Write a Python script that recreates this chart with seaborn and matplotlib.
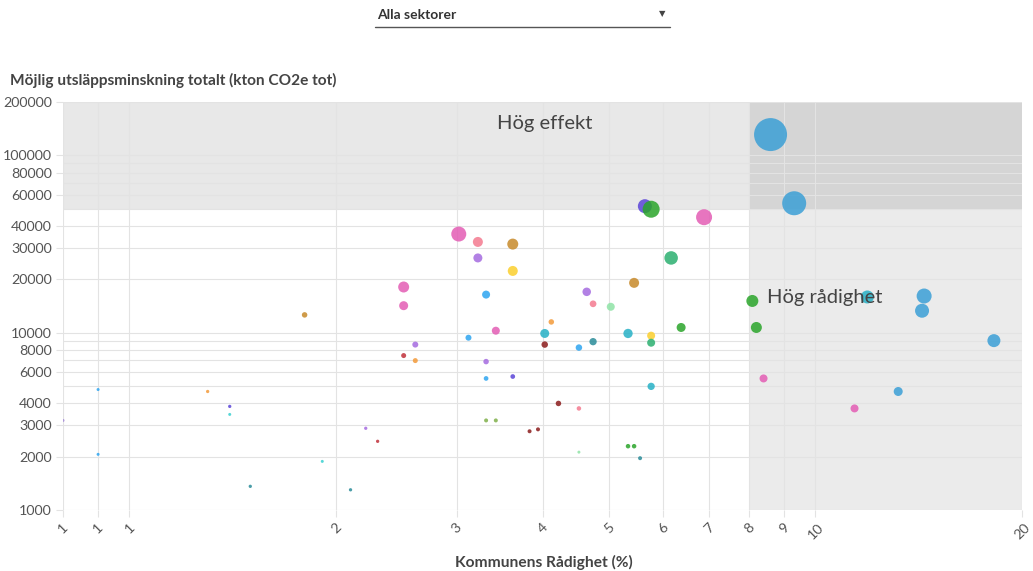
import matplotlib
matplotlib.use("Agg")
import matplotlib.pyplot as plt
import seaborn as sns
import pandas as pd
from matplotlib.lines import Line2D

# Kommunens rådighet (%) per åtgärd
radighet = [0.80, 0.90, 0.90, 1.30, 1.40, 1.40, 1.50, 1.80, 1.91, 2.10,
            2.21, 2.30, 2.51, 2.51, 2.51, 2.61, 2.61, 3.02, 3.12, 3.22,
            3.22, 3.31, 3.31, 3.31, 3.31, 3.42, 3.42, 3.62, 3.62, 3.62,
            3.83, 3.94, 4.03, 4.03, 4.12, 4.22, 4.52, 4.52, 4.52, 4.64,
            4.74, 4.74, 5.03, 5.33, 5.44, 5.33, 5.44, 5.55, 5.64, 5.76,
            5.76, 5.76, 5.76, 6.16, 6.37, 6.88, 8.09, 8.20, 8.40, 8.60,
            9.31, 11.4, 11.9, 13.2, 14.3, 14.4, 18.2]

# Möjlig utsläppsminskning totalt (kton CO2e)
utslapp = [3200, 4780, 2060, 4660, 3840, 3460, 1360, 12600, 1880, 1300,
           2890, 2440, 18100, 14200, 7430, 8570, 6960, 36000, 9370, 32500,
           26400, 16400, 6870, 5520, 3200, 10260, 3200, 31600, 22300, 5660,
           2780, 2850, 9900, 8570, 11500, 3990, 3740, 2120, 8240, 17000,
           14550, 8900, 14000, 2290, 2290, 9900, 19100, 1960, 51700, 49700,
           9620, 8780, 4980, 26400, 10700, 44800, 15100, 10700, 5520, 131000,
           53700, 3740, 15900, 4660, 13300, 16100, 9020]

# Bubblornas diameter (px)
diameter = [3, 3, 3, 3.3, 3.3, 3, 3.3, 5.5, 3, 3.3,
            3.3, 3.3, 11, 9, 5, 6, 5, 15, 6, 10,
            9, 8, 5.5, 4.7, 4, 8, 4, 11, 10, 4.7,
            4, 4, 9, 6.5, 5.5, 5.5, 4.5, 3, 6.5, 8.5,
            6.7, 7.3, 8, 4.5, 4.5, 9.3, 10, 4, 14, 17,
            8, 8, 7.3, 13.5, 9, 16, 12, 11, 8, 33,
            24, 8, 13, 9, 14, 15, 13]

PINK, SALMON, PURPLE, BROWN = "#e35db4", "#f47a8f", "#a56be0", "#c78a2a"
YELLOW, BLUE, BIGBLUE, CYAN = "#fbcf2e", "#2ea5f0", "#3b9fd6", "#27b1c6"
DARKRED, RED, ORANGE, LGREEN = "#8b1c1c", "#c0303a", "#f39a3a", "#8fe3a6"
GREEN, SEAGREEN, TEAL, INDIGO = "#2aa52a", "#2bb070", "#2a8c99", "#5b45d8"
OLIVE, TURQ, LPURPLE = "#7fb04a", "#3ad0d0", "#a58bd8"

farg = [LPURPLE, BLUE, BLUE, ORANGE, INDIGO, TURQ, TEAL, BROWN, TURQ, TEAL,
        PURPLE, RED, PINK, PINK, RED, PURPLE, ORANGE, PINK, BLUE, SALMON,
        PURPLE, BLUE, PURPLE, BLUE, OLIVE, PINK, OLIVE, BROWN, YELLOW, INDIGO,
        DARKRED, DARKRED, CYAN, DARKRED, ORANGE, DARKRED, SALMON, LGREEN, BLUE, PURPLE,
        SALMON, TEAL, LGREEN, GREEN, GREEN, CYAN, BROWN, TEAL, INDIGO, GREEN,
        YELLOW, SEAGREEN, CYAN, SEAGREEN, GREEN, PINK, GREEN, GREEN, PINK, BIGBLUE,
        BIGBLUE, PINK, CYAN, BIGBLUE, BIGBLUE, BIGBLUE, BIGBLUE]

x_ticks = [0.8, 0.9, 1, 2, 3, 4, 5, 6, 7, 8, 9, 10, 20]
x_tick_labels = ["1", "1", "1", "2", "3", "4", "5", "6", "7", "8", "9", "10", "20"]
y_major = [1000, 2000, 3000, 4000, 6000, 8000, 10000, 20000, 30000, 40000,
           60000, 80000, 100000, 200000]
y_minor = [5000, 7000, 9000, 50000, 70000, 90000]

sns.set_theme(style="white")
plt.rcParams["font.family"] = ["Lato", "DejaVu Sans"]

W, H = 1033, 571
fig = plt.figure(figsize=(W / 100, H / 100), dpi=100)
ax = fig.add_axes([63 / W, 1 - 510 / H, 959 / W, 408 / H])

df = pd.DataFrame({"radighet": radighet, "utslapp": utslapp,
                   "diameter": diameter, "farg": farg})
df["id"] = [f"p{i}" for i in range(len(df))]
palette = dict(zip(df["id"], df["farg"]))
sizes = {d: (d * 0.72) ** 2 for d in df["diameter"].unique()}

ax.set_xscale("log")
ax.set_yscale("log")
ax.set_xlim(0.8, 20)
ax.set_ylim(1000, 200000)

# Zoner: hög effekt och hög rådighet
ax.axhspan(50000, 200000, color="black", alpha=0.09, lw=0, zorder=0)
ax.axvspan(8, 20, color="black", alpha=0.08, lw=0, zorder=0)

sns.scatterplot(data=df, x="radighet", y="utslapp", hue="id", palette=palette,
                size="diameter", sizes=sizes, legend=False, alpha=0.85,
                linewidth=0, ax=ax, zorder=3)

ax.set_xticks(x_ticks)
ax.set_xticklabels(x_tick_labels, rotation=45, ha="center")
ax.xaxis.set_minor_locator(matplotlib.ticker.NullLocator())
ax.set_yticks(y_major)
ax.set_yticklabels([str(v) for v in y_major])
ax.set_yticks(y_minor, minor=True)
ax.set_yticklabels([], minor=True)

ax.grid(True, which="both", color="#e3e3e3", lw=0.8, zorder=1)
ax.tick_params(axis="both", which="major", length=5, width=0.8, color="#e3e3e3",
               labelsize=10.3, labelcolor="#555555", pad=3, left=True, bottom=True)
ax.tick_params(axis="y", which="minor", length=0)
for s in ax.spines.values():
    s.set_visible(False)

ax.set_xlabel("")
ax.set_ylabel("")

ax.text(4.03, 152000, "Hög effekt", ha="center", va="center", fontsize=14.5,
        color="#444444", zorder=4)
ax.text(10.3, 15700, "Hög rådighet", ha="center", va="center", fontsize=14.5,
        color="#444444", zorder=4)

fig.text(10 / W, 1 - 80 / H, "Möjlig utsläppsminskning totalt (kton CO2e tot)",
         ha="left", va="center", fontsize=11.1, fontweight="bold", color="#444444")
fig.text(544 / W, 1 - 562 / H, "Kommunens Rådighet (%)", ha="center", va="center",
         fontsize=11.2, fontweight="bold", color="#444444")

# Sektorsväljare
fig.text(377 / W, 1 - 15 / H, "Alla sektorer", ha="left", va="center",
         fontsize=10, fontweight="bold", color="#333333")
fig.add_artist(Line2D([375 / W, 670 / W], [1 - 27 / H, 1 - 27 / H],
                      color="#555555", lw=1))
fig.text(662 / W, 1 - 14 / H, "▼", ha="center", va="center", fontsize=6,
         color="#444444", family="DejaVu Sans")

fig.savefig("out.png", dpi=100, facecolor="white")
